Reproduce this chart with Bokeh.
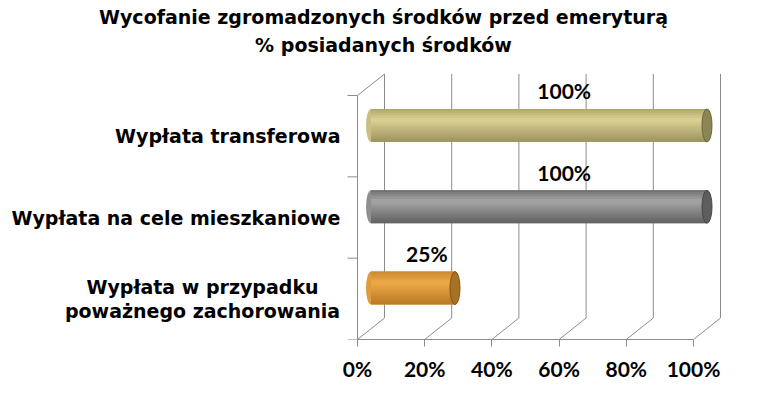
from bokeh.plotting import figure
from bokeh.models import Range1d, FixedTicker, Title
from bokeh.core.properties import value
from bokeh.embed import file_html
from bokeh.resources import INLINE

# ---------------- data ----------------
title_lines = ["Wycofanie zgromadzonych środków przed emeryturą", "% posiadanych środków"]
categories = ["Wypłata w przypadku\npoważnego zachorowania",
              "Wypłata na cele mieszkaniowe",
              "Wypłata transferowa"]          # bottom -> top
values = [25, 100, 100]
value_labels = ["25%", "100%", "100%"]
x_ticks = [0, 20, 40, 60, 80, 100]
x_tick_labels = ["0%", "20%", "40%", "60%", "80%", "100%"]

# ---------------- layout ----------------
W, H = 766, 393
PX = 3.36          # px per percent
PY = 81.33         # px per category band
DX = 27 / PX       # depth offset (x)
DY = 21.5 / PY     # depth offset (y)
BH = 33 / PY       # cylinder thickness
CAPW = 10 / PX     # cap ellipse width
GRID = "#8c8c8c"
X0 = 357           # page x of 0 %
FRAME_TOP, FRAME_BOTTOM = 60, 339

p = figure(width=W, height=H, output_backend="svg", toolbar_location=None,
           x_range=Range1d(-X0 / PX, (W - X0) / PX),
           y_range=Range1d(0, (FRAME_BOTTOM - FRAME_TOP) / PY),
           min_border_left=0, min_border_right=0,
           min_border_top=FRAME_TOP, min_border_bottom=H - FRAME_BOTTOM,
           y_axis_location=None)
p.outline_line_color = None
p.xgrid.visible = False
p.ygrid.visible = False
p.background_fill_color = "white"
p.border_fill_color = "white"

# title: two centred lines (first added sits closest to the plot)
for line, so in zip(reversed(title_lines), [9, 0]):
    p.add_layout(Title(text=line, align="center", text_font="DejaVu Sans",
                       text_font_style="bold", text_font_size="19px",
                       text_color="black", standoff=so), "above")

# x axis (front floor edge)
ax = p.xaxis[0]
ax.ticker = FixedTicker(ticks=x_ticks, minor_ticks=[])
ax.major_label_overrides = {t: l for t, l in zip(x_ticks, x_tick_labels)}
ax.bounds = (0, 100)
ax.axis_line_color = GRID
ax.major_tick_line_color = GRID
ax.major_tick_out = 7
ax.major_tick_in = 0
ax.minor_tick_line_color = None
ax.major_label_standoff = 9
ax.major_label_text_font = "Lato"
ax.major_label_text_font_style = "bold"
ax.major_label_text_font_size = "21px"
ax.major_label_text_color = "black"

n = len(categories)
top = n

# back wall verticals
p.segment(x0=[t + DX for t in x_ticks], y0=[DY] * len(x_ticks),
          x1=[t + DX for t in x_ticks], y1=[top + DY] * len(x_ticks),
          line_color=GRID, line_width=1)
# floor diagonals
p.segment(x0=x_ticks, y0=[0] * len(x_ticks),
          x1=[t + DX for t in x_ticks], y1=[DY] * len(x_ticks),
          line_color=GRID, line_width=1)
# left wall front edge + top diagonal
p.segment(x0=[0, 0], y0=[0, top], x1=[0, DX], y1=[top, top + DY],
          line_color=GRID, line_width=1)
# left ticks
ks = list(range(n + 1))
p.segment(x0=[-10 / PX] * len(ks), y0=ks, x1=[0] * len(ks), y1=ks,
          line_color=GRID, line_width=1)

# cylinders
palettes = [
    # (top edge, highlight, bottom edge, cap)
    ((200, 134, 44), (238, 170, 72), (186, 122, 36), (168, 114, 36)),
    ((108, 108, 108), (166, 166, 166), (98, 98, 98), (94, 94, 94)),
    ((172, 162, 104), (220, 210, 148), (158, 148, 94), (140, 134, 86)),
]


def mix(a, b, t):
    return "#%02x%02x%02x" % tuple(int(round(a[k] + (b[k] - a[k]) * t)) for k in range(3))


NS = 14
for i, v in enumerate(values):
    edge, hi, bot, cap = palettes[i]
    yc = i + 0.5 + DY / 2
    xa = DX / 2
    xb = v + DX / 2
    # left rounded end
    p.ellipse(x=[xa], y=[yc], width=CAPW, height=BH, fill_color=mix(edge, hi, 0.6),
              line_color=None)
    # body: base + overlapping shading bands
    p.hbar(y=[yc], height=BH, left=xa, right=xb, fill_color=mix(hi, bot, 0.5),
           line_color=None)
    sh = BH / NS
    ys, cols = [], []
    for j in range(NS):
        f = (j + 0.5) / NS   # 0 top -> 1 bottom
        if f < 0.35:
            c = mix(edge, hi, f / 0.35)
        else:
            c = mix(hi, bot, (f - 0.35) / 0.65)
        ys.append(yc + BH / 2 - (j + 0.5) * sh)
        cols.append(c)
    tops = [min(y + sh * 0.8, yc + BH / 2) for y in ys]
    bots = [max(y - sh * 0.8, yc - BH / 2) for y in ys]
    p.quad(left=xa, right=xb, top=tops, bottom=bots, fill_color=cols, line_color=None)
    # right cap
    p.ellipse(x=[xb], y=[yc], width=CAPW, height=BH, fill_color=mix(cap, (0, 0, 0), 0.0),
              line_color=mix(cap, (0, 0, 0), 0.25), line_width=1)

# value labels
p.text(x=[7 + 0.545 * v for v in values], y=[i + 0.5 + DY / 2 for i in range(n)],
       text=value_labels, y_offset=-(BH / 2 * PY + 18),
       text_align="center", text_baseline="middle",
       text_font=value("Lato"), text_font_style="bold", text_font_size="21px",
       text_color="black")

# category labels (single-line: right aligned; two-line: lines centred)
single = [i for i, c in enumerate(categories) if "\n" not in c]
multi = [i for i, c in enumerate(categories) if "\n" in c]
lab_style = dict(text_baseline="middle", text_line_height=1.1,
                 text_font=value("DejaVu Sans"), text_font_style="bold",
                 text_font_size="19px", text_color="black")
p.text(x=[0] * len(single), y=[i + 0.5 for i in single],
       text=[categories[i] for i in single], x_offset=-17, text_align="right", **lab_style)
p.text(x=[0] * len(multi), y=[i + 0.5 for i in multi],
       text=[categories[i] for i in multi], x_offset=-155, text_align="center", **lab_style)

open("out.html", "w").write(file_html(p, INLINE))
